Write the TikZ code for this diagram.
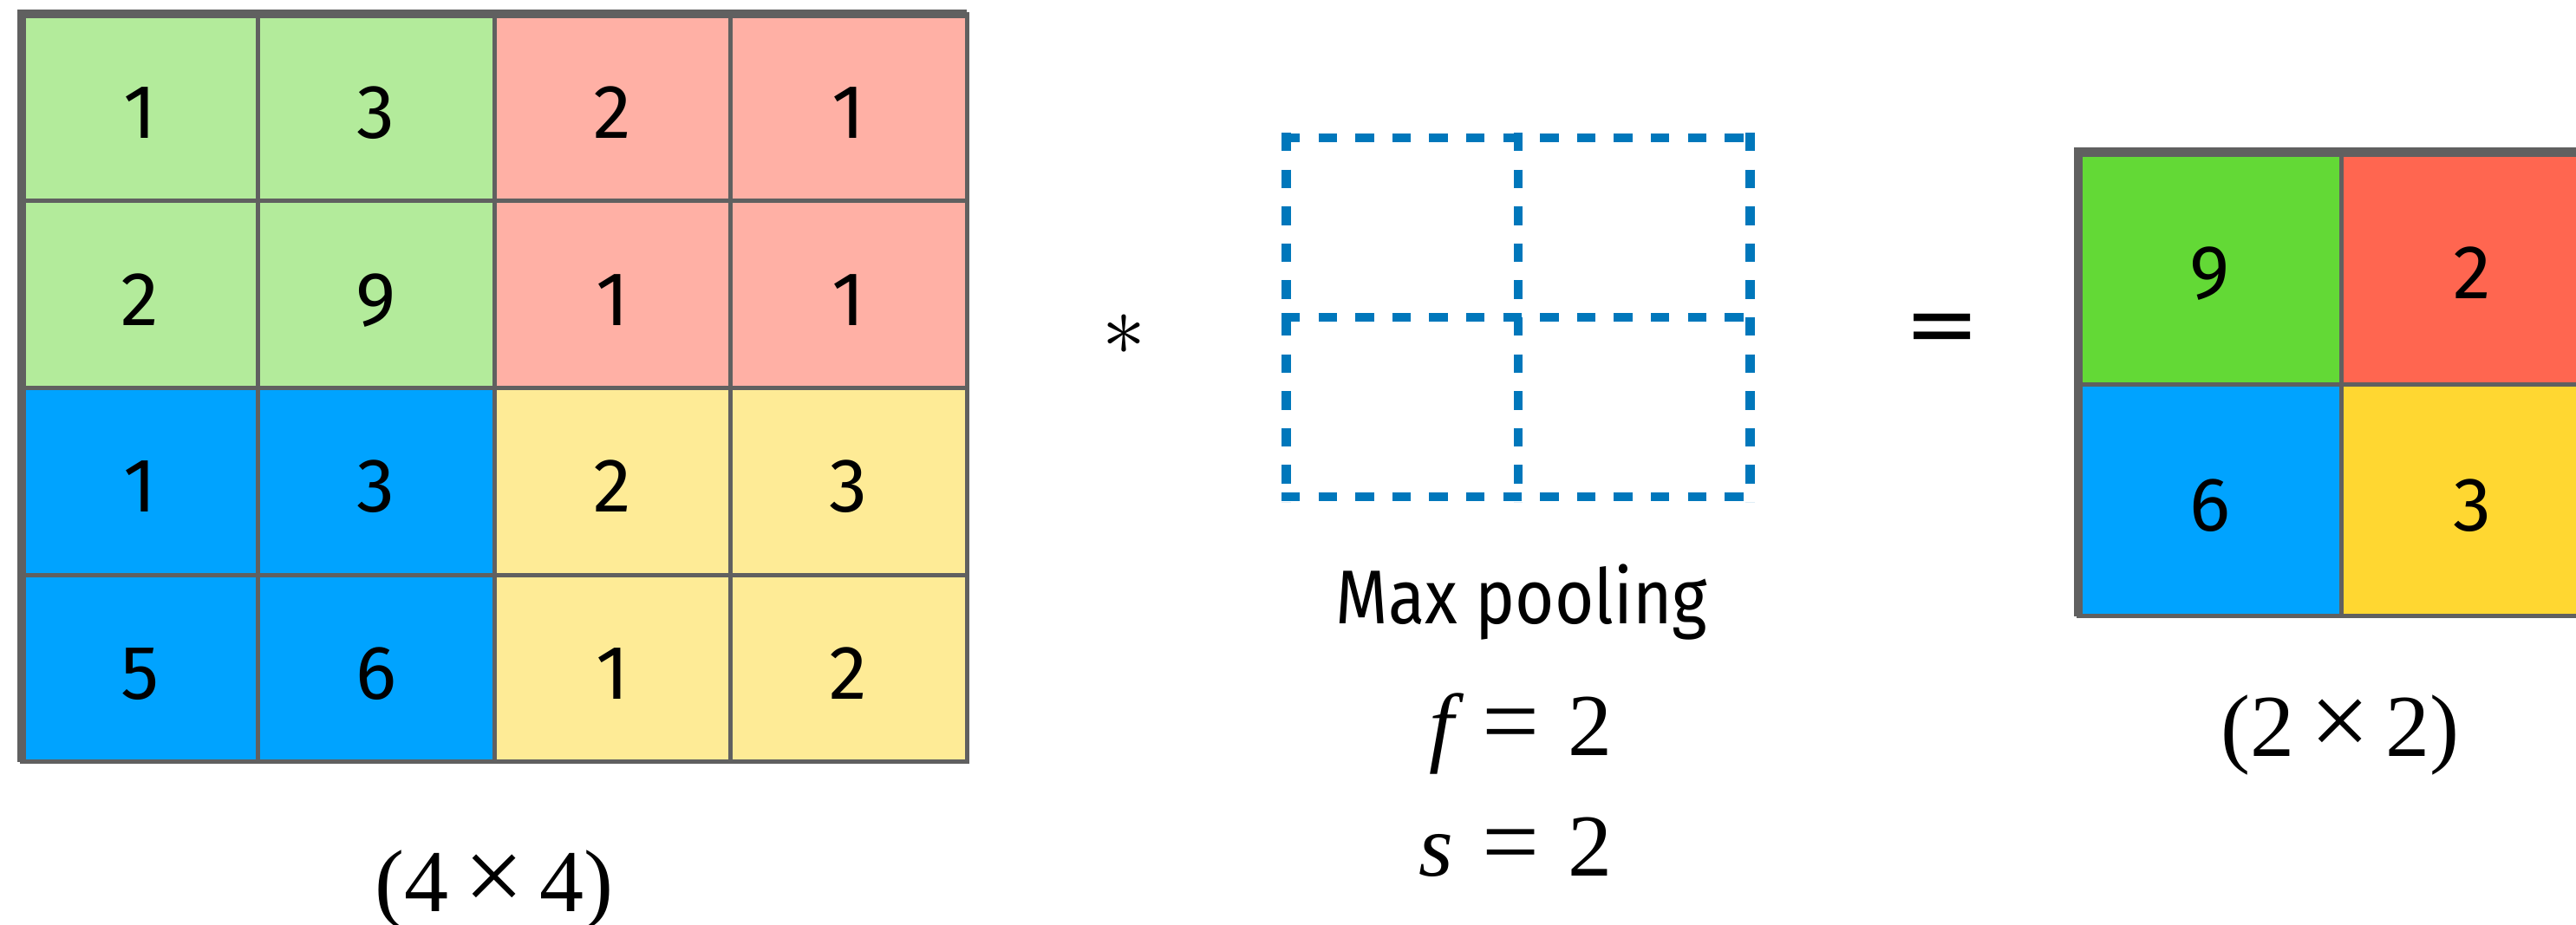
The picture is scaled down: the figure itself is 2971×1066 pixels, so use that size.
\documentclass[tikz,border=0pt]{standalone}
\usepackage{fontspec}
\setmainfont{Fira Sans}
\newfontfamily\tms{Liberation Serif}
\newfontfamily\djv{DejaVu Sans}
\usepackage{graphicx}
\definecolor{gridgray}{HTML}{606060}
\definecolor{lgreen}{HTML}{B3EB9B}
\definecolor{lsalmon}{HTML}{FFB0A5}
\definecolor{cblue}{HTML}{00A3FF}
\definecolor{lyellow}{HTML}{FEEB96}
\definecolor{ogreen}{HTML}{63D936}
\definecolor{ored}{HTML}{FF6650}
\definecolor{oyellow}{HTML}{FFD731}
\definecolor{poolblue}{HTML}{0077BB}
\begin{document}
\begin{tikzpicture}[x=1pt,y=-1pt,
  digitfont/.style={font=\fontsize{88}{90}\selectfont},
  incell/.style={draw=gridgray,line width=5pt,minimum width=272.5pt,minimum height=215.75pt,
    inner sep=0pt,outer sep=0pt,text height=71pt,text depth=0pt,digitfont},
  outcell/.style={draw=gridgray,line width=5pt,minimum width=303pt,minimum height=267.75pt,
    inner sep=0pt,outer sep=0pt,text height=71pt,text depth=0pt,digitfont},
  thickborder/.style={draw=gridgray,line width=10.7pt},
  poolline/.style={draw=poolblue,line width=10.7pt,dash pattern=on 21.3pt off 21.3pt},
  serifbig/.style={font=\tms\fontsize{102}{110}\selectfont,inner sep=0pt},
  labelfont/.style={font=\fontsize{88}{90}\selectfont,inner sep=0pt}
]
\useasboundingbox (0,0) rectangle (2971,1066);
\clip (0,0) rectangle (2971,1066);
\fill[white] (0,0) rectangle (2971,1066);

% input 4x4 grid
\node[incell,fill=lgreen]  (a11) at (161.25,123.9) {1};
\node[incell,fill=lgreen]  (a12) at (433.75,123.9) {3};
\node[incell,fill=lsalmon] (a13) at (706.25,123.9) {2};
\node[incell,fill=lsalmon] (a14) at (978.75,123.9) {1};
\node[incell,fill=lgreen]  (a21) at (161.25,339.6) {2};
\node[incell,fill=lgreen]  (a22) at (433.75,339.6) {9};
\node[incell,fill=lsalmon] (a23) at (706.25,339.6) {1};
\node[incell,fill=lsalmon] (a24) at (978.75,339.6) {1};
\node[incell,fill=cblue]   (a31) at (161.25,555.4) {1};
\node[incell,fill=cblue]   (a32) at (433.75,555.4) {3};
\node[incell,fill=lyellow] (a33) at (706.25,555.4) {2};
\node[incell,fill=lyellow] (a34) at (978.75,555.4) {3};
\node[incell,fill=cblue]   (a41) at (161.25,771.1) {5};
\node[incell,fill=cblue]   (a42) at (433.75,771.1) {6};
\node[incell,fill=lyellow] (a43) at (706.25,771.1) {1};
\node[incell,fill=lyellow] (a44) at (978.75,771.1) {2};
\draw[thickborder] (a41.south west) -- (a11.north west) -- (a14.north east);

\node[serifbig,anchor=base] (lblin) at (570,1051) {(4\hspace{18pt}\scalebox{1.2}{×}\hspace{18pt}4)};

% operator
\node[inner sep=0pt] (star) at (1296,386) {\scalebox{10}{$\ast$}};

% pooling window
\draw[poolline] (1478,159) -- (2025,159);
\draw[poolline] (1478,366) -- (2025,366);
\draw[poolline] (1478,573) -- (2025,573);
\draw[poolline] (1483.5,153) -- (1483.5,579);
\draw[poolline] (1751,153) -- (1751,579);
\draw[poolline] (2018.5,153) -- (2018.5,579);

\node[labelfont,anchor=base] (maxp) at (1755,719) {\scalebox{0.883}[1]{Max pooling}};
\node[serifbig,anchor=base east] (feq) at (1860,871) {{\itshape f}\hspace{33pt}\scalebox{1.15}{=}\hspace{33pt}2};
\node[serifbig,anchor=base east] (seq) at (1860,1010) {{\itshape s}\hspace{33pt}\scalebox{1.15}{=}\hspace{33pt}2};

\node[inner sep=0pt,font=\djv\fontsize{104}{110}\selectfont] (eq) at (2240,386) {=};

% output 2x2 grid
\node[outcell,fill=ogreen]  (b11) at (2548.5,309.4) {9};
\node[outcell,fill=ored]    (b12) at (2851.5,309.4) {2};
\node[outcell,fill=cblue]   (b21) at (2548.5,577.1) {6};
\node[outcell,fill=oyellow] (b22) at (2851.5,577.1) {3};
\draw[thickborder] (b21.south west) -- (b11.north west) -- (b12.north east);

\node[serifbig,anchor=base] (lblout) at (2699,872) {(2\hspace{18pt}\scalebox{1.2}{×}\hspace{18pt}2)};
\end{tikzpicture}
\end{document}
